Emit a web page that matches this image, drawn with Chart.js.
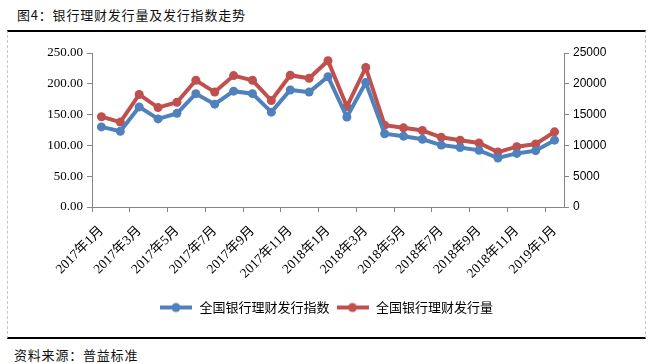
<!DOCTYPE html>
<html>
<head>
<meta charset="utf-8">
<script src="https://cdn.jsdelivr.net/npm/chart.js@4"></script>
<style>
  body { margin: 0; width: 649px; height: 363px; background: #fff; position: relative; overflow: hidden; }
  #title { position: absolute; left: 17px; top: 5px; font: 13px "Noto Sans CJK SC", sans-serif; letter-spacing: 0.8px; color: #111; }
  #source { position: absolute; left: 14px; top: 345px; font: 13px "Noto Sans CJK SC", sans-serif; letter-spacing: 0.8px; color: #111; }
  #frame { position: absolute; left: 7px; top: 30px; width: 637px; height: 305px;
           border-top: 2px solid #000; border-bottom: 2px solid #000;
           border-left: 1px dashed #c8c8c8; border-right: 1px dashed #c8c8c8; }
  #box { position: absolute; left: 7px; top: 31px; width: 638px; height: 305px; }
</style>
</head>
<body>
<div id="title">图4：银行理财发行量及发行指数走势</div>
<div id="frame"></div>
<div id="box"><canvas id="issueChart"></canvas></div>
<div id="source">资料来源：普益标准</div>
<script>
const months = [
  "2017年1月", "2017年2月", "2017年3月", "2017年4月", "2017年5月", "2017年6月",
  "2017年7月", "2017年8月", "2017年9月", "2017年10月", "2017年11月", "2017年12月",
  "2018年1月", "2018年2月", "2018年3月", "2018年4月", "2018年5月", "2018年6月",
  "2018年7月", "2018年8月", "2018年9月", "2018年10月", "2018年11月", "2018年12月",
  "2019年1月"
];
const issueIndex = [
  130, 123, 162.5, 143, 152, 184, 167, 188, 184, 154, 190, 186.5,
  211.5, 146, 202, 119, 115, 110, 100.5, 96.5, 92, 79.5, 87, 91.5, 108.5
];
const issueVolume = [
  14660, 13780, 18270, 16140, 17010, 20570, 18650, 21330, 20570, 17290, 21390, 20900,
  23740, 16300, 22650, 13290, 12850, 12420, 11320, 10830, 10390, 8920, 9790, 10230, 12200
];

const blue = "#4F81BD";
const red = "#C0504D";
const axisGrey = "#868686";

function legendIcon(color) {
  const c = document.createElement("canvas");
  c.width = 32; c.height = 12;
  const g = c.getContext("2d");
  g.strokeStyle = color; g.lineWidth = 4;
  g.beginPath(); g.moveTo(0, 6); g.lineTo(32, 6); g.stroke();
  g.fillStyle = color;
  g.beginPath(); g.arc(16, 6, 4.5, 0, Math.PI * 2); g.fill();
  return c;
}
const icons = [legendIcon(blue), legendIcon(red)];

const ctx = document.getElementById("issueChart").getContext("2d");

new Chart(ctx, {
  type: "line",
  data: {
    labels: months,
    datasets: [{
      label: "全国银行理财发行指数",
      data: issueIndex,
      yAxisID: "y",
      borderColor: blue,
      backgroundColor: blue,
      borderWidth: 4,
      pointRadius: 4.5,
      pointBorderWidth: 0,
      tension: 0
    }, {
      label: "全国银行理财发行量",
      data: issueVolume,
      yAxisID: "y1",
      borderColor: red,
      backgroundColor: red,
      borderWidth: 4,
      pointRadius: 4.5,
      pointBorderWidth: 0,
      tension: 0
    }]
  },
  options: {
    responsive: true,
    maintainAspectRatio: false,
    animation: false,
    layout: { padding: { top: 22, bottom: 12, left: 0, right: 0 } },
    scales: {
      x: {
        offset: true,
        grid: {
          offset: true,
          drawOnChartArea: false,
          tickLength: 5,
          color: (c) => (c.index % 2 === 0 ? axisGrey : "transparent")
        },
        border: { color: axisGrey },
        ticks: {
          autoSkip: false,
          minRotation: 45,
          maxRotation: 45,
          padding: 11,
          color: "#000",
          font: { family: "'Liberation Serif', 'Noto Sans CJK SC', serif", size: 13.5 },
          callback: function (v, i) { return i % 2 === 0 ? months[i] : ""; }
        },
        afterFit: (s) => { s.height = 88; }
      },
      y: {
        position: "left",
        min: 0,
        max: 250,
        grid: { drawOnChartArea: false, tickLength: 5, color: axisGrey },
        border: { color: axisGrey },
        ticks: {
          stepSize: 50,
          padding: 4,
          color: "#000",
          font: { family: "'Liberation Serif', serif", size: 13 },
          callback: (v) => v.toFixed(2)
        },
        afterFit: (s) => { s.width = 85; }
      },
      y1: {
        position: "right",
        min: 0,
        max: 25000,
        grid: { drawOnChartArea: false, tickLength: 5, color: axisGrey },
        border: { color: axisGrey },
        ticks: {
          stepSize: 5000,
          padding: 4,
          color: "#000",
          font: { family: "'Liberation Sans', sans-serif", size: 12 },
          callback: (v) => String(v)
        },
        afterFit: (s) => { s.width = 81; }
      }
    },
    plugins: {
      legend: {
        position: "bottom",
        labels: {
          usePointStyle: true,
          pointStyleWidth: 34,
          boxHeight: 12,
          padding: 6,
          color: "#000",
          font: { family: "'Noto Sans CJK SC', sans-serif", size: 13 },
          generateLabels: function (chart) {
            const items = Chart.defaults.plugins.legend.labels.generateLabels(chart);
            items.forEach((it, i) => { it.pointStyle = icons[i]; });
            return items;
          }
        }
      },
      tooltip: { enabled: false }
    }
  }
});
</script>
</body>
</html>
